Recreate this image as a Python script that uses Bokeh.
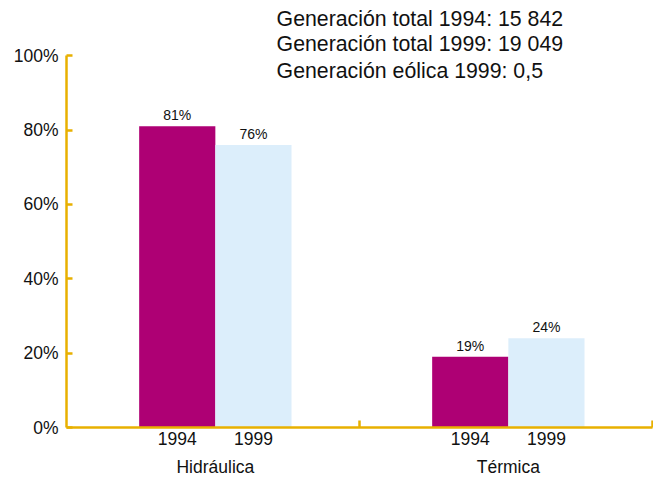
from bokeh.plotting import figure
from bokeh.models import (ColumnDataSource, FixedTicker, LinearAxis, Range1d, Label)
from bokeh.core.properties import value
from bokeh.embed import file_html
from bokeh.resources import INLINE

categories = ["Hidráulica", "Térmica"]
years = ["1994", "1999"]
values_1994 = [81, 19]
values_1999 = [76, 24]
y_ticks = [0, 20, 40, 60, 80, 100]
notes = ["Generación total 1994: 15 842",
         "Generación total 1999: 19 049",
         "Generación eólica 1999: 0,5"]

C1994 = "#AE0074"
C1999 = "#DCEEFB"
AXIS = "#E8B000"
FONT = "Liberation Sans"

offsets = [0.378, 0.638]
bw = 0.26
cat_start = list(range(len(categories)))

p = figure(width=653, height=479, output_backend="svg", toolbar_location=None,
           x_range=Range1d(0, 2.0), y_range=Range1d(0, 113.5),
           min_border_left=66, min_border_top=5, min_border_right=1, min_border_bottom=0)
p.xaxis.visible = False
p.yaxis.visible = False
p.grid.visible = False
p.outline_line_color = None
p.background_fill_color = "white"

s1 = ColumnDataSource(dict(x=[c + offsets[0] for c in cat_start], top=values_1994,
                           lab=[f"{v}%" for v in values_1994]))
s2 = ColumnDataSource(dict(x=[c + offsets[1] for c in cat_start], top=values_1999,
                           lab=[f"{v}%" for v in values_1999]))
p.vbar(x="x", top="top", width=bw, source=s1, fill_color=C1994, line_color=None)
p.vbar(x="x", top="top", width=bw, source=s2, fill_color=C1999, line_color=None)
for s in (s1, s2):
    p.text(x="x", y="top", text="lab", source=s, text_align="center", text_baseline="bottom",
           y_offset=-3, text_font_size="14px", text_font=value(FONT), text_color="#111111")

# y axis
ya = LinearAxis(ticker=FixedTicker(ticks=y_ticks), bounds=(0, 100),
                major_label_overrides={t: f"{t}%" for t in y_ticks},
                axis_line_color=AXIS, axis_line_width=2.5,
                major_tick_line_color=AXIS, major_tick_line_width=2.5,
                major_tick_in=6, major_tick_out=0, minor_tick_line_color=None,
                major_label_text_font=FONT, major_label_text_font_size="17.5px",
                major_label_text_color="#111111", major_label_standoff=8)
p.add_layout(ya, "left")

# x axis: years
centers = []
year_labels = {}
for c in cat_start:
    for o, yr in zip(offsets, years):
        centers.append(c + o)
        year_labels[c + o] = yr
xa = LinearAxis(ticker=FixedTicker(ticks=centers, minor_ticks=[c + 1 for c in cat_start]),
                major_label_overrides=year_labels,
                axis_line_color=AXIS, axis_line_width=2.5,
                major_tick_line_color=None, major_tick_in=0, major_tick_out=0,
                minor_tick_line_color=AXIS, minor_tick_line_width=2.5,
                minor_tick_in=7, minor_tick_out=0,
                major_label_text_font=FONT, major_label_text_font_size="17.5px",
                major_label_text_color="#111111", major_label_standoff=4)
p.add_layout(xa, "below")

cat_centers = [c + (offsets[0] + offsets[1]) / 2 for c in cat_start]
xa2 = LinearAxis(ticker=FixedTicker(ticks=cat_centers),
                 major_label_overrides={c: n for c, n in zip(cat_centers, categories)},
                 axis_line_color=None, major_tick_line_color=None, minor_tick_line_color=None,
                 major_tick_in=0, major_tick_out=0,
                 major_label_text_font=FONT, major_label_text_font_size="17.5px",
                 major_label_text_color="#111111", major_label_standoff=9)
p.add_layout(xa2, "below")

for t, yv in zip(notes, [110, 103.2, 96]):
    p.add_layout(Label(x=0.717, y=yv, text=t, text_font=FONT, text_font_size="21.3px",
                       text_baseline="middle", text_align="left", text_color="#111111"))

open("out.html", "w").write(file_html(p, INLINE))
